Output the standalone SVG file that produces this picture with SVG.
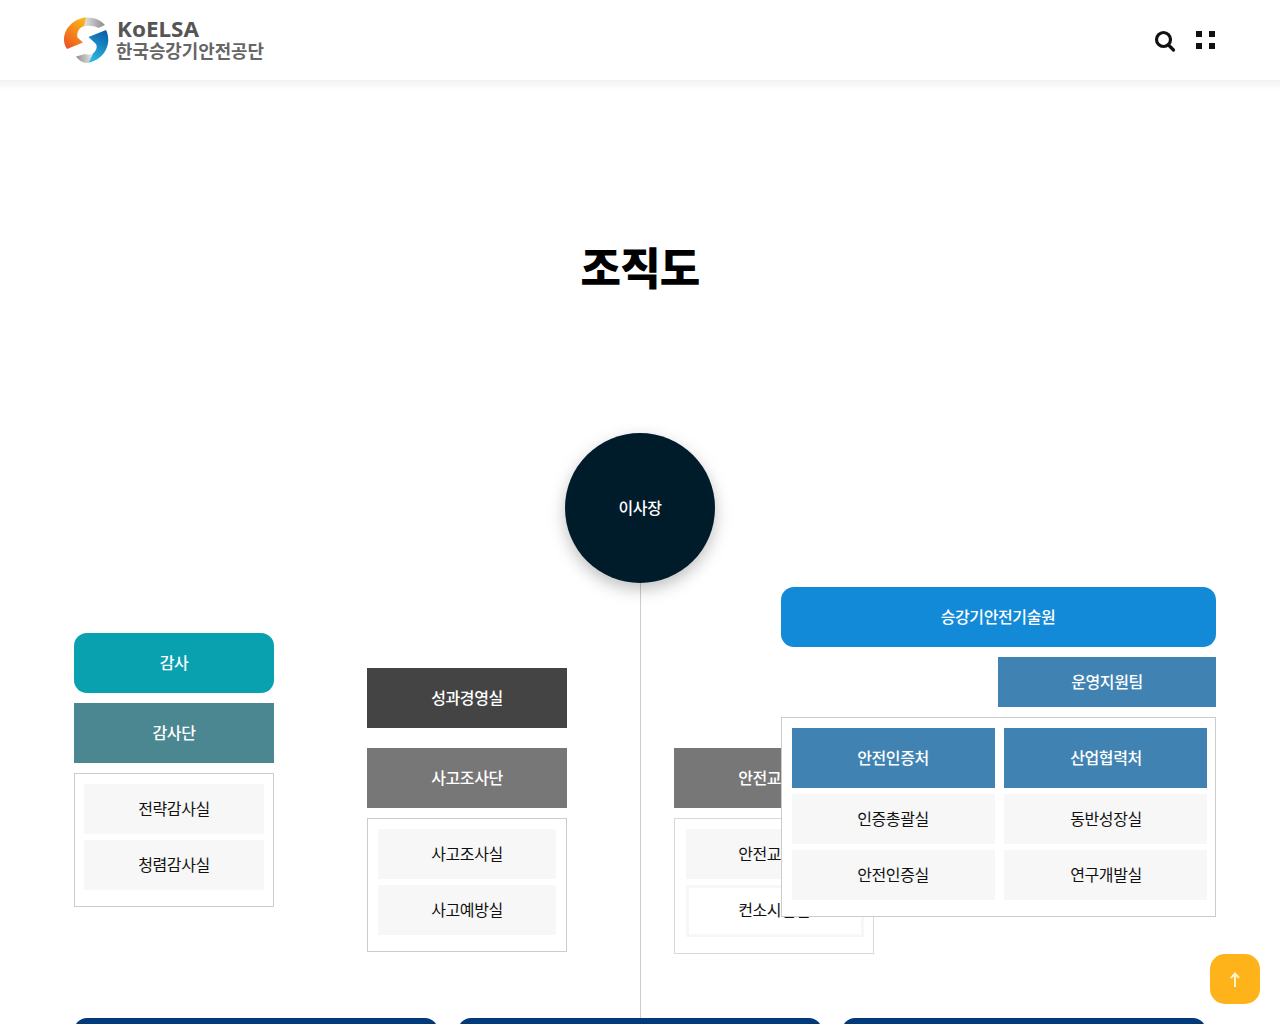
<svg xmlns="http://www.w3.org/2000/svg" width="1280" height="1024" viewBox="0 0 1280 1024">
<style>
text{font-family:"Noto Sans CJK KR","Noto Sans",sans-serif;font-size:16px;font-weight:500;letter-spacing:-.4px;text-anchor:middle}
.w{fill:#fff}
.k{fill:#111;font-weight:400}
.item{fill:#f7f7f7}
.box{fill:#fff;stroke:#ccc;stroke-width:1}
.blue{fill:#4083b3}
.navy{fill:#003a7c}
</style>
<defs>
<linearGradient id="hd" x1="0" y1="0" x2="0" y2="1"><stop offset="0" stop-color="#f2f2f2"/><stop offset="1" stop-color="#fff"/></linearGradient>
<linearGradient id="lg1" x1="0.8" y1="0" x2="0.2" y2="1"><stop offset="0" stop-color="#fbb616"/><stop offset="1" stop-color="#ee5524"/></linearGradient>
<linearGradient id="lg2" x1="0.7" y1="0" x2="0.3" y2="1"><stop offset="0" stop-color="#0b5fab"/><stop offset="1" stop-color="#2cbbe2"/></linearGradient>
<linearGradient id="lg3" x1="0" y1="0" x2="1" y2="0"><stop offset="0" stop-color="#e8e8e8"/><stop offset="1" stop-color="#8a8a8a"/></linearGradient>
<linearGradient id="lg4" x1="0" y1="0" x2="1" y2="0"><stop offset="0" stop-color="#8f8f8f"/><stop offset="1" stop-color="#e8e8e8"/></linearGradient>
<filter id="sh" x="-30%" y="-30%" width="160%" height="170%"><feDropShadow dx="0" dy="6" stdDeviation="8" flood-color="#000" flood-opacity=".25"/></filter>
</defs>
<rect width="1280" height="1024" fill="#fff"/>
<rect y="80" width="1280" height="10" fill="url(#hd)"/>

<g id="logo">
<path d="M85 17.500C94 17 101 20 105 25L98.500 28C94 25.500 88 25 83 26.500Z" fill="url(#lg3)"/>
<path d="M86 17.500C74 18.500 64 28 64 40C64 43 65 46 67 49L83 42.500L77.500 37.500C76.500 32 79 28 84 26Z" fill="url(#lg1)"/>
<path d="M106 30C112 42 106 59 88 62.800L92.500 54C96.500 51 97.500 47 96 44L88.500 37Z" fill="url(#lg2)"/>
<path d="M76 56.500L85 54C87.500 55 90 55 93 54L88.500 62.800C83 63.500 79 60.500 76 56.500Z" fill="url(#lg4)"/>
<text x="117" y="36.500" style="text-anchor:start;letter-spacing:0;font-size:21px;font-weight:700;font-family:'Noto Sans','Noto Sans CJK KR',sans-serif" fill="#555" textLength="82" lengthAdjust="spacingAndGlyphs">KoELSA</text>
<text x="116" y="57.500" style="text-anchor:start;letter-spacing:0;font-size:18px;font-weight:700" fill="#666" textLength="148" lengthAdjust="spacingAndGlyphs">한국승강기안전공단</text>
</g>
<g id="search-icon" fill="none" stroke="#111" stroke-width="3.200"><circle cx="1163.500" cy="39.500" r="7"/><path d="M1168.500 45L1173.500 50" stroke-linecap="round"/></g>
<g id="menu-icon" fill="#111"><rect x="1196" y="31" width="6" height="6"/><rect x="1209" y="31" width="6" height="6"/><rect x="1196" y="43" width="6" height="6"/><rect x="1209" y="43" width="6" height="6"/></g>

<text x="640" y="285" style="font-size:44px;font-weight:900;letter-spacing:-.8px" fill="#000">조직도</text>

<g id="connectors"><path d="M640.500 583V1018" stroke="#ccc" stroke-width="1" fill="none"/></g>

<g id="chairman"><circle cx="640" cy="508" r="75" fill="#051c2c" filter="url(#sh)"/><text class="w" x="640" y="514">이사장</text></g>

<g id="audit"><rect x="74" y="633" width="200" height="60" rx="13" fill="#09a0b0"/><text class="w" x="174" y="669">감사</text></g>
<g id="audit-team"><rect x="74" y="703" width="200" height="60" fill="#4b8790"/><text class="w" x="174" y="739">감사단</text></g>
<g id="audit-box">
<rect class="box" x="74.500" y="773.500" width="199" height="133"/>
<rect class="item" x="84" y="784" width="180" height="50"/><text class="k" x="174" y="815">전략감사실</text>
<rect class="item" x="84" y="840" width="180" height="50"/><text class="k" x="174" y="871">청렴감사실</text>
</g>

<g id="perf"><rect x="367" y="668" width="200" height="60" fill="#444"/><text class="w" x="467" y="704">성과경영실</text></g>
<g id="accident-team"><rect x="367" y="748" width="200" height="60" fill="#777"/><text class="w" x="467" y="784">사고조사단</text></g>
<g id="accident-box">
<rect class="box" x="367.500" y="818.500" width="199" height="133"/>
<rect class="item" x="378" y="829" width="178" height="50"/><text class="k" x="467" y="860">사고조사실</text>
<rect class="item" x="378" y="885" width="178" height="50"/><text class="k" x="467" y="916">사고예방실</text>
</g>

<g id="edu-team"><rect x="674" y="748" width="200" height="60" fill="#777"/><text class="w" x="774" y="784">안전교육단</text></g>
<g id="edu-box">
<rect class="box" x="674.500" y="818.500" width="199" height="135" style="stroke:#d8d8d8"/>
<rect class="item" x="686" y="829" width="178" height="50"/><text class="k" x="774" y="860">안전교육실</text>
<rect x="687.500" y="886.500" width="175" height="49" fill="#fff" stroke="#f7f7f7" stroke-width="3"/><text class="k" x="774" y="916">컨소시엄실</text>
</g>

<g id="institute"><rect x="781" y="587" width="435" height="60" rx="13" fill="#128ad8"/><text class="w" x="998" y="623">승강기안전기술원</text></g>
<g id="support"><rect class="blue" x="998" y="657" width="218" height="50"/><text class="w" x="1107" y="688">운영지원팀</text></g>
<g id="institute-box">
<rect class="box" x="781.500" y="717.500" width="434" height="199"/>
<g id="cert"><rect class="blue" x="792" y="728" width="203" height="60"/><text class="w" x="893" y="764">안전인증처</text></g>
<g id="industry"><rect class="blue" x="1004" y="728" width="203" height="60"/><text class="w" x="1106" y="764">산업협력처</text></g>
<rect class="item" x="792" y="794" width="203" height="50"/><text class="k" x="893" y="825">인증총괄실</text>
<rect class="item" x="1004" y="794" width="203" height="50"/><text class="k" x="1106" y="825">동반성장실</text>
<rect class="item" x="792" y="850" width="203" height="50"/><text class="k" x="893" y="881">안전인증실</text>
<rect class="item" x="1004" y="850" width="203" height="50"/><text class="k" x="1106" y="881">연구개발실</text>
</g>

<g id="bottom">
<rect class="navy" x="74" y="1018" width="364" height="40" rx="13"/>
<rect class="navy" x="458" y="1018" width="364" height="40" rx="13"/>
<rect class="navy" x="842" y="1018" width="364" height="40" rx="13"/>
</g>

<g id="top-button"><rect x="1210" y="954" width="50" height="50" rx="15" fill="#ffb31a"/><path d="M1235 987V974M1231 978L1235 973.500L1239 978" fill="none" stroke="#fff3cf" stroke-width="2"/></g>
</svg>
